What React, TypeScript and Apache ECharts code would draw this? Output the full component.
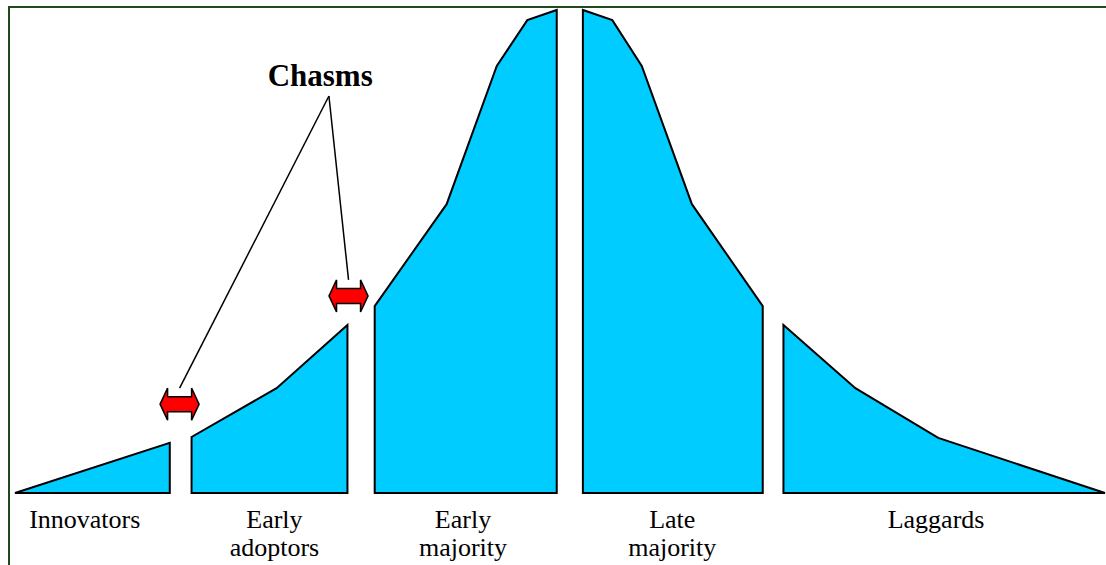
import React, { useEffect, useRef } from "react";
import * as echarts from "echarts";

// Segment outlines, [x, y] in axis units (x: 0–100, y: 0–100)
const innovators = [[0, 0], [14.2, 10.4], [14.2, 0]];
const earlyAdopters = [[16.2, 0], [16.2, 11.6], [24.0, 21.7], [30.5, 34.8], [30.5, 0]];
const earlyMajority = [[33.0, 0], [33.0, 38.7], [39.6, 59.8], [44.2, 88.4], [47.0, 97.9], [49.7, 100], [49.7, 0]];
const lateMajority = [[52.1, 0], [52.1, 100], [54.8, 97.9], [57.5, 88.4], [62.1, 59.8], [68.6, 38.7], [68.6, 0]];
const laggards = [[70.5, 0], [70.5, 34.8], [77.1, 21.7], [84.7, 11.4], [100, 0]];
const segments = [innovators, earlyAdopters, earlyMajority, lateMajority, laggards];

// Category labels and where they sit on the x axis
const labelNames = ["Innovators", "Early\nadoptors", "Early\nmajority", "Late\nmajority", "Laggards"];
const labelX = [6.4, 23.8, 41.1, 60.3, 84.5];

// Chasm annotations
const chasmTitle = "Chasms";
const chasmTitlePos = [28.0, 86.5];
const chasmApex = [28.8, 82.2];
const chasmArrows = [[15.1, 18.4], [30.6, 40.8]];

const FILL = "#00CCFF";

export default function App() {
  const ref = useRef<HTMLDivElement>(null);
  useEffect(() => {
    if (!ref.current) return;
    const chart = echarts.init(ref.current, null, { renderer: "svg" });

    const arrowShape = (cx: number, cy: number) => {
      const hw = 19.5, hb = 12, hh = 16, sh = 7.5;
      return [
        [cx - hw, cy], [cx - hb, cy - hh], [cx - hb, cy - sh], [cx + hb, cy - sh],
        [cx + hb, cy - hh], [cx + hw, cy], [cx + hb, cy + hh], [cx + hb, cy + sh],
        [cx - hb, cy + sh], [cx - hb, cy + hh],
      ];
    };

    chart.setOption({
      animation: false,
      textStyle: { fontFamily: "Times New Roman" },
      grid: { left: 15, right: 1, top: 10, bottom: 72 },
      xAxis: {
        type: "value",
        min: 0,
        max: 100,
        axisLine: { show: false },
        axisTick: { show: false },
        splitLine: { show: false },
        axisLabel: {
          customValues: labelX,
          margin: 12,
          fontFamily: "Times New Roman",
          fontSize: 26,
          lineHeight: 28,
          color: "#000",
          formatter: (v: number) => {
            const i = labelX.findIndex((x) => Math.abs(x - v) < 0.01);
            return i >= 0 ? labelNames[i] : "";
          },
        },
      },
      yAxis: { type: "value", min: 0, max: 100, show: false },
      graphic: [
        {
          type: "rect",
          shape: { x: 9, y: 7, width: 1300, height: 700 },
          style: { fill: "none", stroke: "#1F4A1F", lineWidth: 2 },
          silent: true,
        },
      ],
      series: [
        {
          type: "custom",
          data: segments.map((_, i) => i),
          renderItem: (params: any, api: any) => {
            const pts = segments[params.dataIndex].map((p) => api.coord(p));
            return {
              type: "polygon",
              shape: { points: pts },
              style: { fill: FILL, stroke: "#000", lineWidth: 2, lineJoin: "miter" },
            };
          },
        },
        {
          type: "custom",
          data: [0],
          renderItem: (params: any, api: any) => {
            const apex = api.coord(chasmApex);
            const t = api.coord(chasmTitlePos);
            const children: any[] = [];
            chasmArrows.forEach((a) => {
              const c = api.coord(a);
              children.push({
                type: "line",
                shape: { x1: apex[0], y1: apex[1], x2: c[0], y2: c[1] - 16 },
                style: { stroke: "#000", lineWidth: 1.5 },
              });
              children.push({
                type: "polygon",
                shape: { points: arrowShape(c[0], c[1]) },
                style: { fill: "#FF0000", stroke: "#000", lineWidth: 1.5 },
              });
            });
            children.push({
              type: "text",
              x: t[0],
              y: t[1],
              style: {
                text: chasmTitle,
                font: "bold 31px serif",
                fill: "#000",
                align: "center",
                verticalAlign: "middle",
              },
            });
            return { type: "group", children };
          },
        },
      ],
    });
    return () => chart.dispose();
  }, []);
  return (
    <div
      ref={ref}
      style={{ position: "absolute", left: 0, top: 0, width: 1106, height: 565, background: "#fff", overflow: "hidden" }}
    />
  );
}
